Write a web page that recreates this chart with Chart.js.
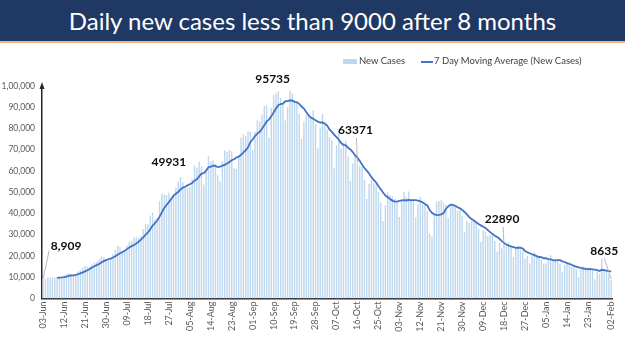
<!DOCTYPE html>
<html>
<head>
<meta charset="utf-8">
<script src="https://cdn.jsdelivr.net/npm/chart.js@4.4.0/dist/chart.umd.min.js"></script>
<style>
  body { margin: 0; width: 625px; height: 351px; overflow: hidden; background: #fff; font-family: Lato, sans-serif; }
  #banner { position: absolute; left: 0; top: 0; width: 625px; height: 41px; background: #1F3864; border-bottom: 2px solid #F4B183; color: #fff; font-size: 24px; text-align: center; line-height: 41px; z-index: 2; }
  #legend { position: absolute; top: 55px; left: 343px; font-size: 9.5px; color: #404040; z-index: 2; white-space: nowrap; }
  #legend span.box { display: inline-block; width: 14px; height: 5px; background: #BDD7EE; vertical-align: middle; margin-right: 2px; }
  #legend span.ln { display: inline-block; width: 12px; height: 2px; background: #4472C4; vertical-align: middle; margin-left: 16px; margin-right: 1px; }
  #wrap { position: absolute; left: 0; top: 0; width: 625px; height: 351px; }
</style>
</head>
<body>
<div id="banner">Daily new cases less than 9000 after 8 months</div>
<div id="legend"><span class="box"></span>New Cases<span class="ln"></span>7 Day Moving Average (New Cases)</div>
<div id="wrap"><canvas id="chart" width="625" height="351"></canvas></div>
<script>
// daily new cases, 03-Jun-2020 .. 02-Feb-2021
const junCases = [8909, 9304, 9851, 9887, 9971, 9983, 9987, 9985, 9996, 10956, 11458, 11929, 11502, 10667, 10974, 12881, 13586, 14516, 15413, 14821, 14933, 15968, 16922, 17296, 18552, 19906, 19459, 18522];
const julCases = [18653, 19148, 20903, 22771, 24850, 24248, 22252, 22752, 24879, 26506, 27114, 28637, 28701, 28498, 29429, 32695, 34956, 34884, 38902, 40425, 37148, 37724, 45720, 49310, 48916, 48661, 49931, 47704, 48513, 52123, 55079];
const augCases = [57118, 54735, 52972, 52050, 52509, 56282, 62538, 61537, 64399, 62064, 53601, 60963, 66999, 64553, 65002, 63490, 57981, 55079, 64531, 69652, 68898, 69878, 69239, 61408, 60975, 67151, 75760, 77266, 76472, 78761, 78512];
const sepCases = [69921, 78357, 83883, 83341, 86432, 90632, 90802, 75809, 89706, 95735, 96551, 97570, 94372, 92071, 83809, 90123, 97894, 96424, 93337, 92605, 86961, 75083, 83347, 86508, 86052, 85362, 88600, 82170, 70589, 80472];
const octCases = [86821, 81484, 79476, 75829, 74442, 61267, 72049, 78524, 70496, 73272, 74383, 66732, 55342, 63509, 67708, 63371, 62212, 61871, 55722, 46790, 54044, 55839, 54366, 53370, 50129, 45148, 36470, 43893, 49881, 48648, 48268];
const novCases = [46963, 45231, 38310, 46253, 50210, 47638, 50357, 45674, 45903, 38073, 44281, 47905, 44878, 44684, 41100, 30548, 29163, 38617, 45576, 45882, 46232, 45209, 44059, 37975, 44376, 44489, 43082, 41322, 41810, 38772];
const decCases = [31118, 36604, 35551, 36595, 36652, 36011, 32981, 26567, 32080, 31521, 29398, 30006, 30254, 27071, 22065, 26382, 24010, 22890, 25152, 26624, 24337, 19556, 23950, 24712, 23067, 22273, 18732, 20021, 16432, 20550, 21822];
const janCases = [20035, 19078, 18177, 16505, 16375, 18088, 20346, 18139, 18222, 18645, 16311, 12584, 15968, 16946, 15590, 15158, 15144, 13788, 10064, 13823, 15223, 14545, 14256, 14849, 13203, 9102, 12689, 11666, 18855, 13083, 13052];
const febCases = [11427, 8635];

const xTickLabels = ['03-Jun', '12-Jun', '21-Jun', '30-Jun', '09-Jul', '18-Jul', '27-Jul', '05-Aug', '14-Aug', '23-Aug', '01-Sep', '10-Sep', '19-Sep', '28-Sep', '07-Oct', '16-Oct', '25-Oct', '03-Nov', '12-Nov', '21-Nov', '30-Nov', '09-Dec', '18-Dec', '27-Dec', '05-Jan', '14-Jan', '23-Jan', '02-Feb'];
const yTickLabels = ['0', '10,000', '20,000', '30,000', '40,000', '50,000', '60,000', '70,000', '80,000', '90,000', '1,00,000'];

// callouts: which day, what text
const calloutDays = ['03-Jun', '27-Jul', '10-Sep', '16-Oct', '18-Dec', '02-Feb'];
const calloutTexts = ['8,909', '49931', '95735', '63371', '22890', '8635'];
// label offset from bar top + leader start (relative to label centre), styling only
const calloutStyle = [
    { dx: 23, dy: -33, leader: [-17, 4] },
    { dx: 0, dy: -30, leader: null },
    { dx: -1, dy: -16, leader: null },
    { dx: -2, dy: -34, leader: [1, 8] },
    { dx: -2, dy: -31, leader: [1, 8] },
    { dx: -7, dy: -29, leader: [0, 7] }
];

const newCases = [].concat(junCases, julCases, augCases, sepCases, octCases, novCases, decCases, janCases, febCases);

const months = ['Jan', 'Feb', 'Mar', 'Apr', 'May', 'Jun', 'Jul', 'Aug', 'Sep', 'Oct', 'Nov', 'Dec'];
var days = [];
for (var i = 0; i < newCases.length; i++) {
    var d = new Date(2020, 5, 3 + i);
    days.push(String(d.getDate()).padStart(2, '0') + '-' + months[d.getMonth()]);
}

// 7 day trailing average
var movingAvg = newCases.map(function (v, i) {
    if (i < 6) return null;
    var s = 0;
    for (var k = i - 6; k <= i; k++) s += newCases[k];
    return s / 7;
});

const shownTicks = new Set(xTickLabels);

const calloutPlugin = {
    id: 'callouts',
    afterDatasetsDraw(chart) {
        const ctx = chart.ctx;
        const xs = chart.scales.x, ys = chart.scales.y;
        ctx.save();
        // arrow on top of y axis
        const ax = chart.chartArea.left;
        ctx.fillStyle = '#262626';
        ctx.beginPath();
        ctx.moveTo(ax, chart.chartArea.top - 4);
        ctx.lineTo(ax - 2.5, chart.chartArea.top + 3);
        ctx.lineTo(ax + 2.5, chart.chartArea.top + 3);
        ctx.closePath();
        ctx.fill();

        ctx.font = 'bold 12px Lato, sans-serif';
        ctx.textAlign = 'center';
        ctx.textBaseline = 'middle';
        calloutDays.forEach(function (day, n) {
            const idx = days.indexOf(day);
            const bx = xs.getPixelForValue(idx);
            const by = ys.getPixelForValue(newCases[idx]);
            const st = calloutStyle[n];
            const lx = bx + st.dx, ly = by + st.dy;
            if (st.leader) {
                ctx.strokeStyle = '#A6A6A6';
                ctx.lineWidth = 0.8;
                ctx.beginPath();
                ctx.moveTo(lx + st.leader[0], ly + st.leader[1]);
                ctx.lineTo(bx, by - 1);
                ctx.stroke();
            }
            ctx.fillStyle = '#0d0d0d';
            ctx.fillText(calloutTexts[n], lx, ly);
        });
        ctx.restore();
    }
};

new Chart(document.getElementById('chart'), {
    type: 'bar',
    data: {
        labels: days,
        datasets: [{
            type: 'line',
            label: '7 Day Moving Average (New Cases)',
            data: movingAvg,
            borderColor: '#4472C4',
            borderWidth: 1.8,
            pointRadius: 0,
            tension: 0,
            spanGaps: false
        }, {
            label: 'New Cases',
            data: newCases,
            backgroundColor: '#BDD7EE',
            categoryPercentage: 1,
            barPercentage: 0.6
        }]
    },
    options: {
        responsive: false,
        animation: false,
        layout: { padding: { top: 86, right: 1, left: 0, bottom: 0 } },
        plugins: {
            legend: { display: false },
            tooltip: { enabled: false }
        },
        scales: {
            x: {
                grid: { display: false, drawTicks: false },
                border: { display: true, color: '#262626', width: 1.5 },
                ticks: {
                    autoSkip: false,
                    minRotation: 90,
                    maxRotation: 90,
                    padding: 3,
                    color: '#595959',
                    font: { family: 'Lato', size: 9 },
                    callback: function (value, index) {
                        return shownTicks.has(days[index]) ? days[index] : '';
                    }
                },
                afterFit: function (s) { s.height = 52.5; }
            },
            y: {
                min: 0,
                max: 100000,
                grid: { display: false, drawTicks: false },
                border: { display: true, color: '#262626', width: 1.5 },
                ticks: {
                    stepSize: 10000,
                    padding: 7,
                    color: '#595959',
                    font: { family: 'Lato', size: 8.5 },
                    callback: function (value) { return yTickLabels[Math.round(value / 10000)]; }
                },
                afterFit: function (s) { s.width = 42; }
            }
        }
    },
    plugins: [calloutPlugin]
});
</script>
</body>
</html>
